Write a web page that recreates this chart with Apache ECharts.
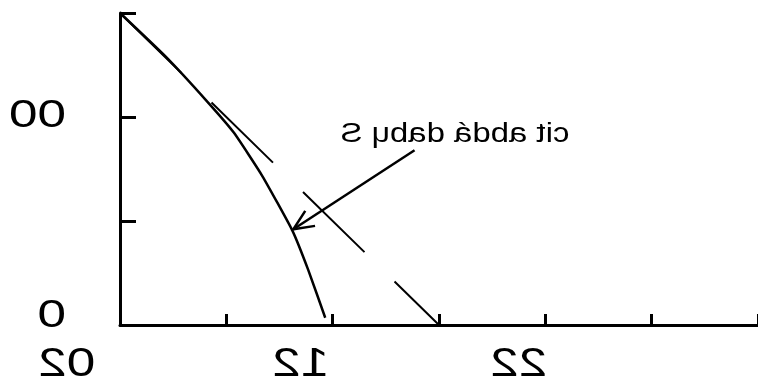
<!DOCTYPE html>
<html>
<head>
<meta charset="utf-8">
<script src="https://cdn.jsdelivr.net/npm/echarts@6/dist/echarts.min.js"></script>
<style>
  html, body { margin: 0; padding: 0; background: #fff; }
  #chart { width: 758px; height: 392px; }
</style>
</head>
<body>
<div id="chart"></div>
<script>
// Axis extents and ticks
const xMin = 0, xMax = 6, xStep = 1;
const yMin = 0, yMax = 3, yStep = 1;

// Tick labels (written mirrored) and the values they sit at
const xLabelText = ['02', '12', '22'];
const xLabelAt = [-0.5, 1.7, 3.75];
const yLabelText = ['0', '00'];
const yLabelAt = [0.08, 2];

// Solid curve
const curveX = [0, 0.43, 0.81, 1.07, 1.34, 1.62, 1.77, 1.93];
const curveY = [3, 2.58, 2.16, 1.85, 1.43, 0.91, 0.53, 0.07];

// Dashed straight line
const lineX = [0, 3];
const lineY = [3, 0];

// Annotation with its arrow
const noteText = 'cit abdá dabɥ S';
const noteAt = [3.15, 1.83];
const arrowFrom = [2.77, 1.68];
const arrowTo = [1.63, 0.92];

const FONT = '"Liberation Sans", Arial, sans-serif';

const chart = echarts.init(document.getElementById('chart'));

function zip(xs, ys) { return xs.map((x, i) => [x, ys[i]]); }

// Text drawn flipped left-to-right and widened
function mirroredText(text, p, size, stretch, align) {
  return {
    type: 'text',
    x: p[0], y: p[1],
    scaleX: -stretch, scaleY: 1,
    style: {
      text: text,
      font: 'normal ' + size + 'px ' + FONT,
      fill: '#000',
      align: align || 'center',
      verticalAlign: 'middle'
    }
  };
}

chart.setOption({
  animation: false,
  backgroundColor: '#fff',
  grid: { left: 120, right: -5, top: 13, bottom: 67, containLabel: false },
  xAxis: {
    type: 'value', min: xMin, max: xMax, interval: xStep,
    axisLine: { show: true, lineStyle: { color: '#000', width: 3 } },
    axisTick: { show: true, inside: true, length: 11, lineStyle: { color: '#000', width: 3 } },
    axisLabel: { show: false },
    splitLine: { show: false }
  },
  yAxis: {
    type: 'value', min: yMin, max: yMax, interval: yStep,
    axisLine: { show: true, lineStyle: { color: '#000', width: 3 } },
    axisTick: { show: true, inside: true, length: 16, lineStyle: { color: '#000', width: 3 } },
    axisLabel: { show: false },
    splitLine: { show: false }
  },
  series: [
    {
      type: 'line',
      data: zip(curveX, curveY),
      showSymbol: false,
      smooth: 0.15,
      lineStyle: { color: '#000', width: 2.5 },
      z: 3
    },
    {
      type: 'line',
      data: zip(lineX, lineY),
      showSymbol: false,
      lineStyle: { color: '#000', width: 2, type: [86, 42] },
      z: 3
    },
    {
      // tick labels, annotation text and arrow
      type: 'custom',
      clip: false,
      data: [0],
      z: 4,
      renderItem: function (params, api) {
        const children = [];
        const yBase = api.coord([0, 0]);
        xLabelText.forEach((t, i) => {
          const p = api.coord([xLabelAt[i], 0]);
          children.push(mirroredText(t, [p[0], yBase[1] + 40], 40, 1.28));
        });
        yLabelText.forEach((t, i) => {
          const p = api.coord([0, yLabelAt[i]]);
          children.push(mirroredText(t, [p[0] - 54, p[1]], 38, 1.35, 'left'));
        });
        const n = api.coord(noteAt);
        children.push(mirroredText(noteText, n, 27, 1.22));

        const a = api.coord(arrowFrom);
        const b = api.coord(arrowTo);
        const ang = Math.atan2(a[1] - b[1], a[0] - b[0]);
        const len = 22, spread = 0.42;
        const h1 = [b[0] + len * Math.cos(ang + spread), b[1] + len * Math.sin(ang + spread)];
        const h2 = [b[0] + len * Math.cos(ang - spread), b[1] + len * Math.sin(ang - spread)];
        const stroke = { stroke: '#000', lineWidth: 2.5, fill: null };
        children.push({ type: 'polyline', shape: { points: [a, b] }, style: stroke });
        children.push({ type: 'polyline', shape: { points: [h1, b, h2] }, style: stroke });
        return { type: 'group', children: children };
      }
    }
  ]
});
</script>
</body>
</html>
